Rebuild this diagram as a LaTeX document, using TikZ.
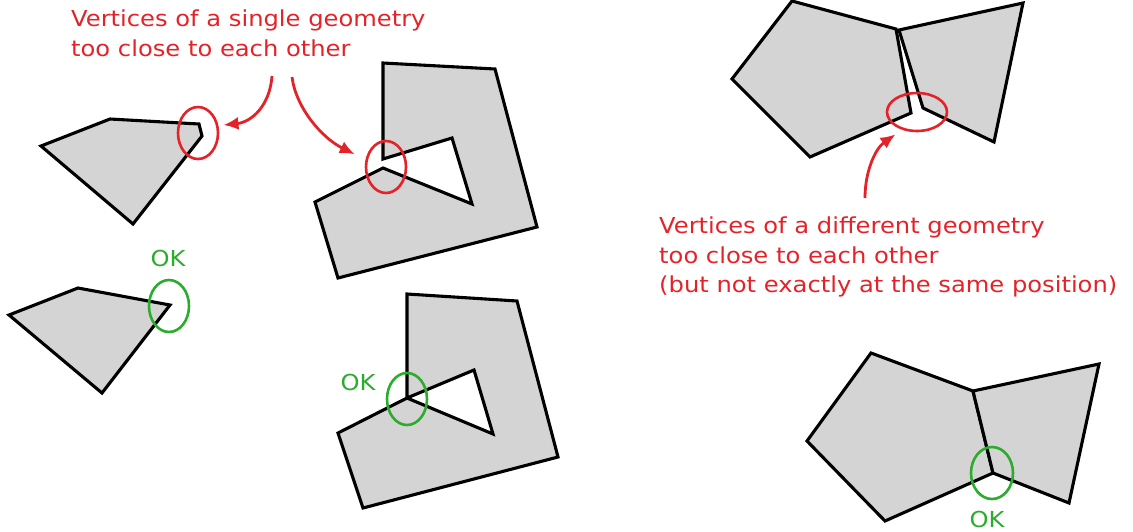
\documentclass[tikz,border=0pt]{standalone}
\usepackage{fontspec}
\setmainfont{DejaVu Sans}[FakeStretch=1.1]
\usetikzlibrary{shapes.geometric,arrows.meta}

\definecolor{errred}{RGB}{228,34,40}
\definecolor{okgreen}{RGB}{44,172,44}
\definecolor{geomfill}{RGB}{212,212,212}

\tikzset{
  geom/.style={draw=black, fill=geomfill, line width=3.1pt, line join=miter},
  errring/.style={ellipse, draw=errred, line width=2.6pt, inner sep=0pt},
  okring/.style={ellipse, draw=okgreen, line width=2.6pt, inner sep=0pt},
  errnote/.style={text=errred, align=left, anchor=north west, inner sep=0pt},
  oknote/.style={text=okgreen, inner sep=0pt},
  errarrow/.style={draw=errred, line width=2.8pt, ->},
}

\begin{document}
\begin{tikzpicture}[font=\fontsize{22}{29.5}\selectfont, >={Latex[length=15pt,width=13pt]}, x=1pt, y=-1pt]
        \useasboundingbox (0,0) rectangle (1133,531);
        % single geometry, vertices too close
        \draw[geom] (41,146) -- (110,119) -- (199,124) -- (202,136) -- (133,224) -- cycle;
        \draw[geom] (383,63) -- (495,69) -- (537,227) -- (338,278) -- (315,202) -- (383,168)
              -- (472,204) -- (452,138) -- (383,159) -- cycle;
        \node[errring, minimum width=40, minimum height=52] (e1) at (198,133) {};
        \node[errring, minimum width=40, minimum height=52] (e3) at (386,167) {};
        % single geometry, ok
        \draw[geom] (9,315) -- (78,288) -- (170,305) -- (102,393) -- cycle;
        \draw[geom] (407,294) -- (517,301) -- (558,457) -- (363,508) -- (338,433) -- (407,398)
              -- (493,434) -- (474,370) -- (407,398) -- cycle;
        \node[okring, minimum width=40, minimum height=52] (e2) at (169,306) {};
        \node[okring, minimum width=40, minimum height=52] (e4) at (407,399) {};
        \node[oknote] (ok2) at (168,258) {OK};
        \node[oknote] (ok4) at (358,382) {OK};
        % different geometries, vertices too close
        \draw[geom] (732,79) -- (792,1) -- (896,29) -- (911,113) -- (810,157) -- cycle;
        \draw[geom] (899,30) -- (1023,3) -- (994,142) -- (923,108) -- cycle;
        \node[errring, minimum width=60, minimum height=38] (e5) at (917,112) {};
        % different geometries, ok
        \draw[geom] (807,441) -- (871,353) -- (973,391) -- (993,473) -- (885,521) -- cycle;
        \draw[geom] (973,391) -- (1099,364) -- (1069,503) -- (993,473) -- cycle;
        \node[okring, minimum width=42, minimum height=52] (e6) at (992,473) {};
        \node[oknote] (ok6) at (987,519) {OK};
        % notes
        \node[errnote] (single) at (71,10) {Vertices of a single geometry\\too close to each other};
        \node[errnote] (multi) at (659,217) {Vertices of a different geometry\\too close to each other\\(but not exactly at the same position)};
        \coordinate (s1) at (272,76);
        \coordinate (s2) at (292,77);
        \coordinate (s3) at (865,198);
        \draw[errarrow, shorten >=5pt] (s1) .. controls (270,105) and (252,122) .. (e1.20);
        \draw[errarrow, shorten >=12pt] (s2) .. controls (296,108) and (322,138) .. (e3.160);
        \draw[errarrow, shorten >=8pt] (s3) .. controls (865,170) and (876,148) .. (e5.230);
      \end{tikzpicture}
\end{document}
